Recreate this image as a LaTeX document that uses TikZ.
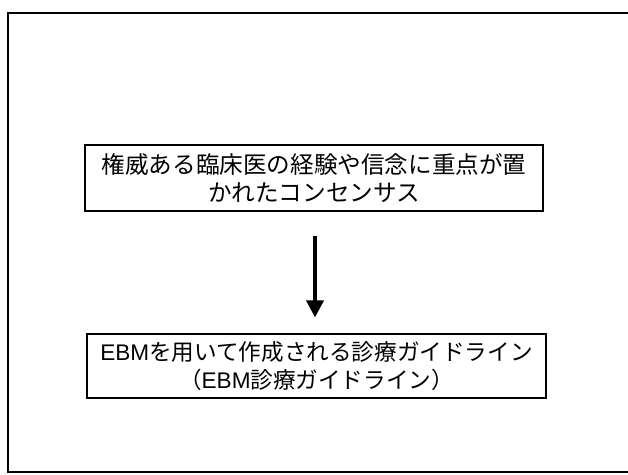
\documentclass[tikz,border=0pt]{standalone}
\usepackage{fontspec}
\setmainfont{Noto Sans CJK JP}
\newfontfamily\latinfont{Liberation Sans}
\newcommand{\ebmword}{{\latinfont EBM}}
\usetikzlibrary{arrows.meta}
\begin{document}
\begin{tikzpicture}[x=1pt,y=-1pt,
  frame/.style={line width=1.6pt},
  textbox/.style={draw, line width=1.1pt, align=center, inner sep=0pt},
  flow/.style={line width=3.6pt, -{Triangle[width=17pt,length=17pt]}}]
\useasboundingbox (0,0) rectangle (628,474);
\draw[frame] (628,13) -- (8,13) -- (8,472) -- (628,472);
\node[textbox, minimum width=458pt, minimum height=66pt,
  font=\fontsize{23.6}{28.5}\selectfont] (a) at (314,178)
  {権威ある臨床医の経験や信念に重点が置\\かれたコンセンサス};
\node[textbox, minimum width=459pt, minimum height=64pt,
  font=\fontsize{22.6}{28}\selectfont] (b) at (316.5,366)
  {\ebmword を用いて作成される診療ガイドライン\\（\ebmword 診療ガイドライン）};
\draw[flow, shorten <=24pt, shorten >=16pt] (a.south -| 315,0) -- (b.north -| 315,0);
\end{tikzpicture}
\end{document}
